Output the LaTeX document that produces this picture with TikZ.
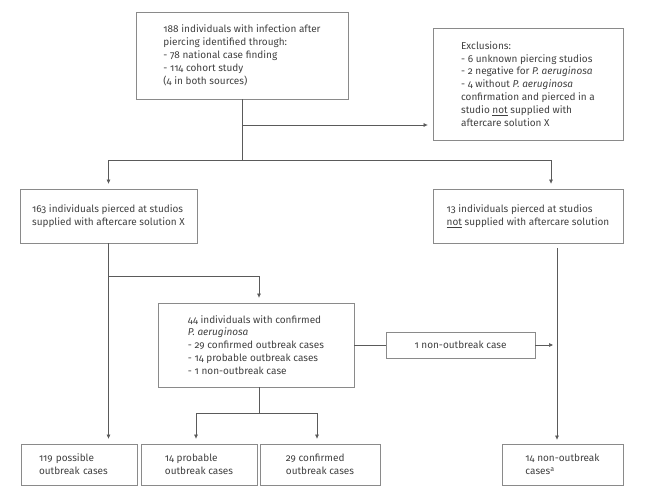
\documentclass[tikz,border=0pt]{standalone}
\usepackage{fontspec}
\setmainfont{Fira Sans}[Numbers=OldStyle]
\usetikzlibrary{arrows.meta}
\definecolor{boxgray}{HTML}{8A8A8A}
\definecolor{linkgray}{HTML}{5A5A5A}
\definecolor{txtgray}{HTML}{404040}

\begin{document}
\begin{tikzpicture}[x=1pt,y=-1pt,
                     box/.style={draw=boxgray,line width=0.8pt,text=txtgray,align=left,
                                 inner xsep=0pt,inner ysep=0pt,
                                 font=\fontsize{10}{12.9}\selectfont},
                     link/.style={draw=linkgray,line width=0.7pt},
                     arr/.style={link,-{Triangle[length=4pt,width=3.5pt]},shorten >=5pt}]
                     \useasboundingbox (0,0) rectangle (652,497);
                     \node[box,minimum width=212,minimum height=87] (top) at (242,55.5)
                       {188 individuals with infection after\\piercing identified through:\\- 78 national case finding\\- 114 cohort study\\(4 in both sources)};
                     \node[box,minimum width=190,minimum height=112] (excl) at (528,84)
                       {Exclusions:\\- 6 unknown piercing studios\\- 2 negative for \textit{P. aeruginosa}\\- 4 without \textit{P. aeruginosa}\\confirmation and pierced in a\\studio \underline{not} supplied with\\aftercare solution X};
                     \node[box,minimum width=177,minimum height=54] (pierced) at (108.5,216)
                       {163 individuals pierced at studios\\supplied with aftercare solution X};
                     \node[box,minimum width=190,minimum height=54] (notsup) at (528,216)
                       {13 individuals pierced at studios\\\underline{not} supplied with aftercare solution};
                     \node[box,minimum width=196,minimum height=84] (confirmed) at (256,345)
                       {44 individuals with confirmed\\\textit{P. aeruginosa}\\- 29 confirmed outbreak cases\\- 14 probable outbreak cases\\- 1 non-outbreak case};
                     \node[box,minimum width=149,minimum height=26] (nonone) at (460.5,345)
                       {1 non-outbreak case};
                     \node[box,minimum width=116,minimum height=41,text width=80] (possible) at (79,464.5)
                       {119 possible\\outbreak cases};
                     \node[box,minimum width=116,minimum height=41] (probable) at (199,464.5)
                       {14 probable\\outbreak cases};
                     \node[box,minimum width=120,minimum height=41] (confcases) at (320,464.5)
                       {29 confirmed\\outbreak cases};
                     \node[box,minimum width=121,minimum height=41] (nonout) at (562.5,464.5)
                       {14 non-outbreak\\cases\textsuperscript{a}};
                     \coordinate (split) at (242,160);
                     \coordinate (exc) at (242,125);
                     \coordinate (rgt) at (551,160);
                     \coordinate (mid) at (108.5,276);
                     \coordinate (midr) at (259,276);
                     \coordinate (low) at (259,413);
                     \coordinate (lowl) at (196,413);
                     \coordinate (lowr) at (317,413);
                     \coordinate (rtop) at (557,248);
                     \coordinate (rhit) at (557,345);
                     \draw[link] (top) -- (split);
                     \draw[arr] (exc) -- (exc -| excl.west);
                     \draw[arr] (split) -| (pierced);
                     \draw[arr] (split) -- (rgt) -- (rgt |- notsup.north);
                     \draw[arr] (pierced) -- (pierced.south |- possible.north);
                     \draw[arr] (mid) -- (midr) -- (midr |- confirmed.north);
                     \draw[link] (confirmed) -- (nonone);
                     \draw[arr,shorten >=4pt] (nonone) -- (rhit);
                     \draw[arr,shorten >=4pt] (rtop) -- (rtop |- nonout.north);
                     \draw[link] (low |- confirmed.south) -- (low);
                     \foreach \p/\b in {lowl/probable,lowr/confcases}{
                       \draw[arr] (low) -- (\p) -- (\p |- \b.north);
                     }
                   \end{tikzpicture}
\end{document}
